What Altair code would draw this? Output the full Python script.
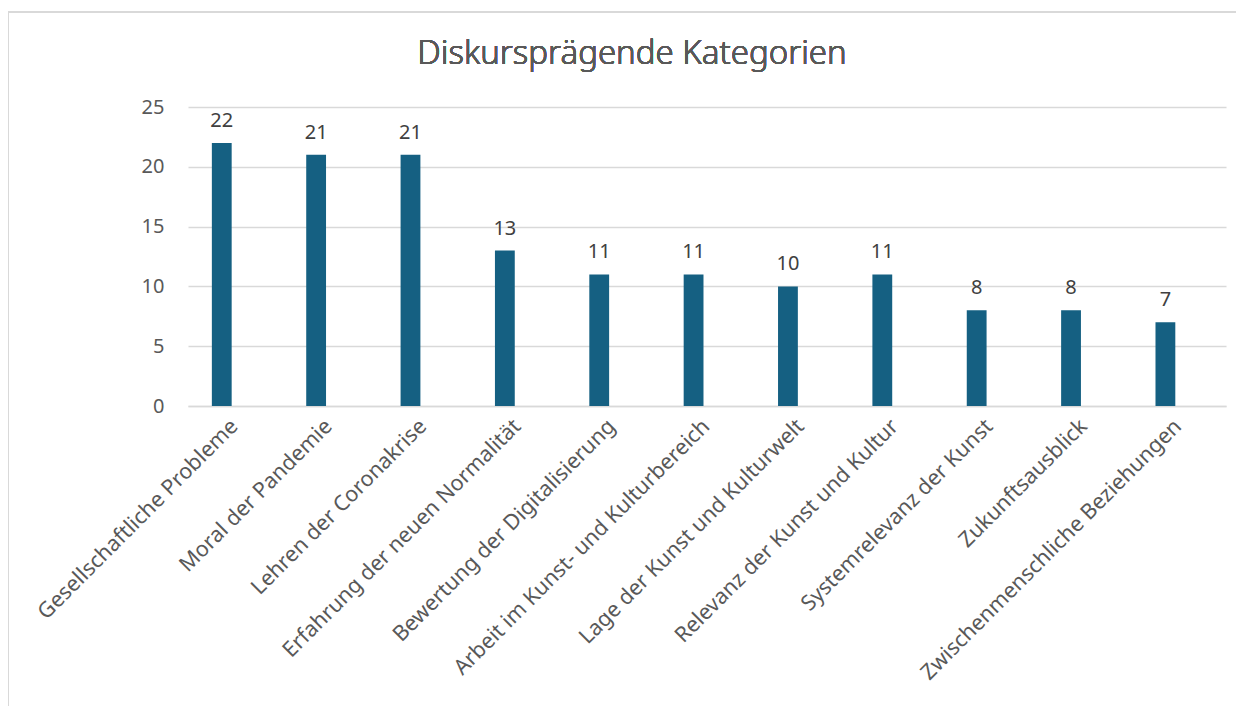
import altair as alt
import pandas as pd

categories = [
    "Gesellschaftliche Probleme",
    "Moral der Pandemie",
    "Lehren der Coronakrise",
    "Erfahrung der neuen Normalität",
    "Bewertung der Digitalisierung",
    "Arbeit im Kunst- und Kulturbereich",
    "Lage der Kunst und Kulturwelt",
    "Relevanz der Kunst und Kultur",
    "Systemrelevanz der Kunst",
    "Zukunftsausblick",
    "Zwischenmenschliche Beziehungen",
]
values = [22, 21, 21, 13, 11, 11, 10, 11, 8, 8, 7]
y_ticks = [0, 5, 10, 15, 20, 25]

df = pd.DataFrame({"Kategorie": categories, "Anzahl": values})

FONT = "Noto Sans"
TXT = "#595959"
GRID = "#d9d9d9"
BAR = "#156082"

x = alt.X(
    "Kategorie:N",
    sort=categories,
    scale=alt.Scale(paddingInner=0.79, paddingOuter=0.395, align=0.32),
    axis=alt.Axis(
        title=None,
        labelAngle=-45,
        labelAlign="right",
        labelBaseline="middle",
        labelFontSize=21.5,
        labelFontWeight="normal",
        labelColor=TXT,
        labelFont=FONT,
        labelOffset=13,
        labelPadding=17,
        labelLimit=500,
        ticks=False,
        domain=True,
        domainColor=GRID,
        domainWidth=1.5,
        grid=False,
    ),
)
y = alt.Y(
    "Anzahl:Q",
    scale=alt.Scale(domain=[0, 25], nice=False),
    axis=alt.Axis(
        title=None,
        values=y_ticks,
        labelFontSize=20,
        labelColor=TXT,
        labelFont=FONT,
        labelPadding=24,
        ticks=False,
        domain=False,
        gridColor=GRID,
        gridWidth=1.5,
    ),
)

base = alt.Chart(df)
bars = base.mark_bar(color=BAR).encode(x=x, y=y)
labels = base.mark_text(
    baseline="bottom", dy=-12, fontSize=20, font=FONT, color="#404040"
).encode(x=alt.X("Kategorie:N", sort=categories), y="Anzahl:Q", text="Anzahl:Q")

frame_top = alt.Chart(df).mark_rule(color=GRID, strokeWidth=2, clip=False).encode(
    x=alt.value(-180), x2=alt.value(1060), y=alt.value(-95)
)
frame_left = alt.Chart(df).mark_rule(color=GRID, strokeWidth=2, clip=False).encode(
    x=alt.value(-180), y=alt.value(-95), y2=alt.value(640)
)
title_text = alt.Chart(df).mark_text(
    fontSize=33, font=FONT, fontWeight=300, color=TXT, align="center", baseline="middle"
).encode(x=alt.value(444), y=alt.value(-53), text=alt.value("Diskursprägende Kategorien"))

chart = (
    alt.layer(frame_top, frame_left, bars, labels, title_text)
    .properties(
        width=1038,
        height=299,
        padding={"left": 180, "top": 99, "right": 10, "bottom": 300},
        autosize=alt.AutoSizeParams(type="none"),
    )
    .configure_view(stroke=None)
)

chart.save("out.html", embed_options={"renderer": "svg", "actions": False})
